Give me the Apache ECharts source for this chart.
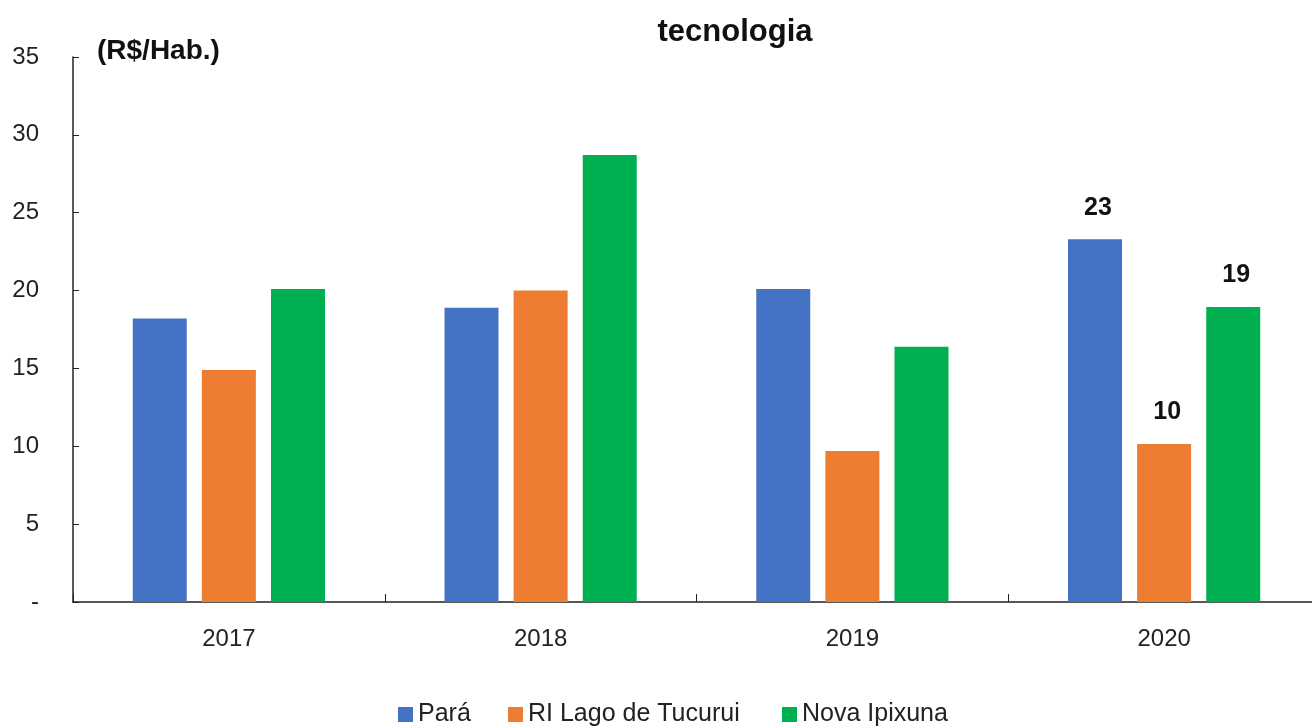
<!DOCTYPE html>
<html>
<head>
<meta charset="utf-8">
<style>
  html, body { margin: 0; padding: 0; background: #fff; overflow: hidden; }
  /* the plot area runs slightly past the right edge of the page */
  #chart { width: 1330px; height: 727px; }
</style>
<script src="https://cdn.jsdelivr.net/npm/echarts@6/dist/echarts.min.js"></script>
</head>
<body>
<div id="chart"></div>
<script>
// Categories and per-series values (R$ per inhabitant)
const years = ['2017', '2018', '2019', '2020'];
const para = [18.2, 18.9, 20.1, 23.3];
const lagoTucurui = [14.9, 20.0, 9.7, 10.15];
const novaIpixuna = [20.1, 28.7, 16.4, 18.95];
const seriesNames = ['Pará', 'RI Lago de Tucurui', 'Nova Ipixuna'];
// Only the last year carries value labels
const labelledIndex = 3;

const FONT = "'Liberation Sans Narrow', 'Arial Narrow', 'Liberation Sans', Arial, sans-serif";
const COLORS = ['#4472C4', '#ED7D31', '#00B050'];

const chart = echarts.init(document.getElementById('chart'));

function barSeries(name, data, color) {
  return {
    name: name,
    type: 'bar',
    data: data,
    barWidth: 54,
    barGap: '28%',
    itemStyle: { color: color },
    label: {
      show: true,
      position: 'top',
      distance: 19,
      offset: [3, 0],
      fontFamily: FONT,
      fontSize: 25,
      fontWeight: 'bold',
      color: '#111',
      formatter: p => p.dataIndex === labelledIndex ? Math.round(p.value).toString() : ''
    }
  };
}

// one legend block per series so each entry sits at its own spot
const legendLefts = [398, 508, 782];
const legends = seriesNames.map((n, i) => ({
  data: [n],
  left: legendLefts[i],
  top: 702,
  padding: 0,
  itemWidth: 15,
  itemHeight: 15,
  icon: 'rect',
  textStyle: { fontFamily: FONT, fontSize: 25, color: '#222' }
}));

chart.setOption({
  animation: false,
  backgroundColor: '#fff',
  textStyle: { fontFamily: FONT },
  title: {
    text: 'tecnologia',
    left: 730,
    textAlign: 'center',
    top: 12,
    textStyle: { fontFamily: FONT, fontSize: 31, fontWeight: 'bold', color: '#111' }
  },
  graphic: [{
    type: 'text',
    left: 97,
    top: 37,
    style: { text: '(R$/Hab.)', font: 'bold 28px ' + FONT, fill: '#111' }
  }],
  legend: legends,
  grid: { left: 73, top: 57, width: 1247, height: 545 },
  xAxis: {
    type: 'category',
    data: years,
    axisLine: { lineStyle: { color: '#222', width: 1.5 } },
    axisTick: { show: true, inside: true, length: 8, lineStyle: { color: '#222' } },
    axisLabel: { fontFamily: FONT, fontSize: 24, color: '#222', margin: 25 }
  },
  yAxis: {
    type: 'value',
    min: 0,
    max: 35,
    interval: 5,
    splitLine: { show: false },
    axisLine: { show: true, lineStyle: { color: '#222', width: 1.5 } },
    axisTick: { show: true, inside: true, length: 6, lineStyle: { color: '#222' } },
    axisLabel: {
      fontFamily: FONT, fontSize: 24, color: '#222', margin: 34,
      formatter: v => v === 0 ? '-' : String(v)
    }
  },
  series: [
    barSeries(seriesNames[0], para, COLORS[0]),
    barSeries(seriesNames[1], lagoTucurui, COLORS[1]),
    barSeries(seriesNames[2], novaIpixuna, COLORS[2])
  ]
});
</script>
</body>
</html>
